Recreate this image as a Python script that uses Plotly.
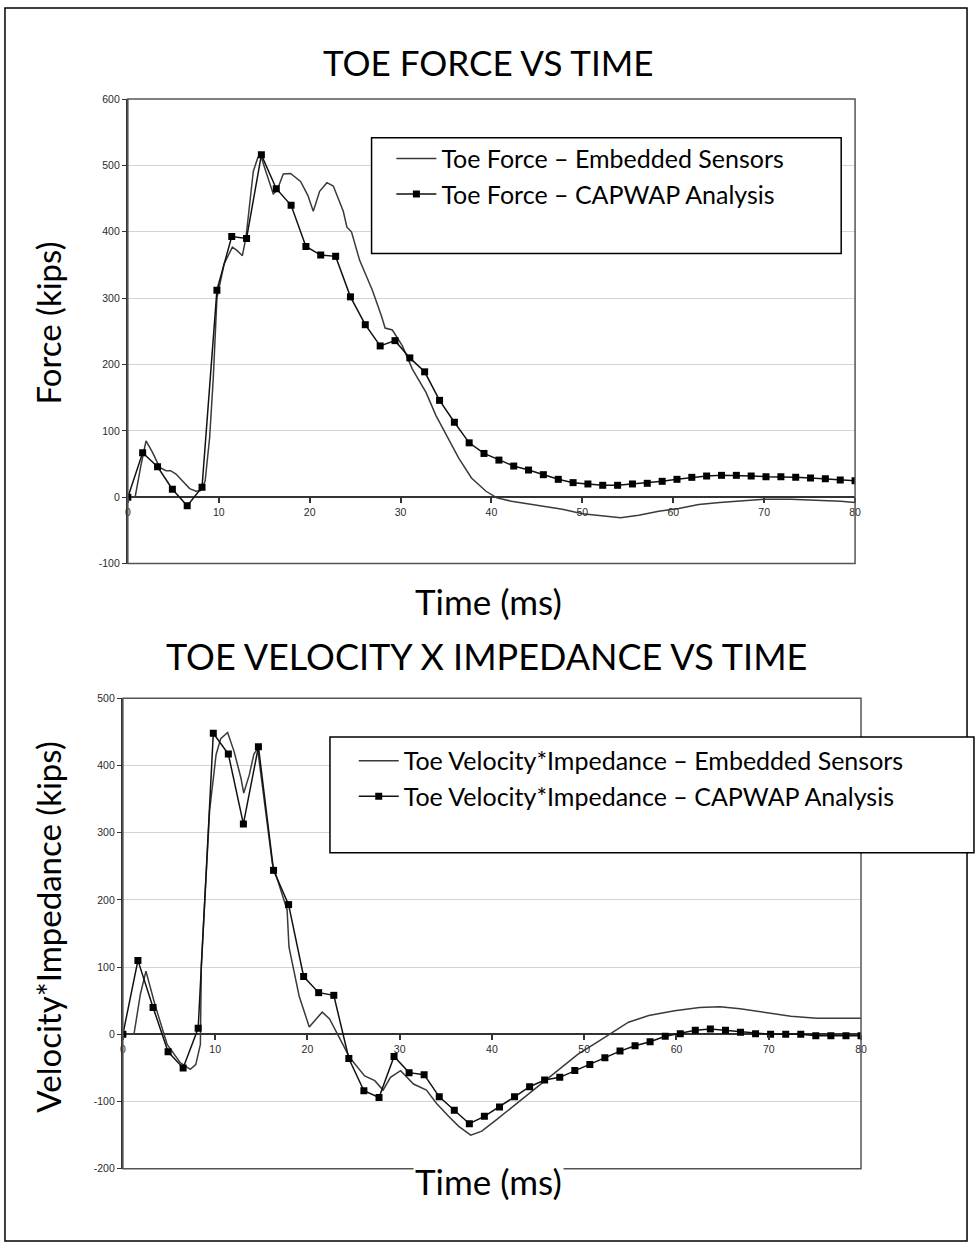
import plotly.graph_objects as go

# ---------------- DATA ----------------
# CAPWAP sample times (ms)
t_capwap = [0.00, 1.63, 3.27, 4.90, 6.53, 8.16, 9.80, 11.43, 13.06, 14.69,
            16.33, 17.96, 19.59, 21.22, 22.86, 24.49, 26.12, 27.76, 29.39, 31.02,
            32.65, 34.29, 35.92, 37.55, 39.18, 40.82, 42.45, 44.08, 45.71, 47.35,
            48.98, 50.61, 52.24, 53.88, 55.51, 57.14, 58.78, 60.41, 62.04, 63.67,
            65.31, 66.94, 68.57, 70.20, 71.84, 73.47, 75.10, 76.73, 78.37, 80.00]

force_capwap = [0, 67, 46, 12, -13, 15, 312, 393, 390, 516,
                465, 440, 378, 365, 363, 302, 260, 228, 236, 210,
                189, 146, 113, 82, 66, 56, 47, 41, 34, 27,
                22, 20, 18, 18, 20, 21, 24, 27, 30, 32,
                33, 33, 32, 31, 31, 30, 29, 28, 26, 25]

vz_capwap = [0, 110, 40, -26, -50, 9, 448, 417, 313, 428,
             244, 193, 86, 62, 58, -36, -84, -94, -33, -57,
             -60, -93, -113, -133, -122, -108, -93, -78, -68, -64,
             -54, -45, -35, -25, -17, -11, -3, 1, 6, 8,
             6, 3, 1, 0, 0, 0, -2, -2, -2, -2]

# Embedded sensor traces
t_force_sensor = [0, 0.8, 1.4, 2.0, 2.7, 3.5, 4.2, 4.7, 5.3, 6.0, 6.8, 7.5, 8.0, 8.5,
                  9.0, 9.4, 9.8, 10.6, 11.5, 12.0, 12.6, 13.0, 13.8, 14.3, 14.6, 15.2,
                  16.0, 16.4, 17.1, 17.9, 19.0, 19.8, 20.4, 21.1, 21.9, 22.6, 23.7, 24.1,
                  24.6, 25.5, 26.9, 27.9, 28.3, 29.1, 30.2, 31.3, 32.8, 33.9, 35.0, 36.4,
                  37.8, 39.4, 40.6, 42.2, 45.0, 47.8, 50.0, 52.3, 54.2, 56.2, 58.4, 60.6,
                  62.8, 65.1, 67.3, 70.1, 72.9, 75.7, 78.4, 80.0]
force_sensor = [0, 0, 45, 85, 68, 45, 40, 40, 35, 24, 13, 9, 10, 24,
                90, 180, 300, 352, 377, 372, 364, 392, 491, 512, 516, 490,
                457, 462, 487, 488, 476, 455, 431, 461, 474, 469, 431, 407,
                400, 357, 312, 273, 255, 252, 228, 193, 158, 123, 94, 59,
                29, 9, -1, -6, -12, -18, -25, -28, -31, -27, -21, -17,
                -11, -8, -6, -3, -3, -4, -6, -8]

t_vz_sensor = [0, 1.2, 1.9, 2.5, 3.5, 4.8, 6.2, 7.3, 7.9, 8.4, 8.5, 9.0, 9.4, 10.1,
               10.6, 11.35, 12.05, 12.8, 13.1, 13.7, 14.2, 14.6, 16.2, 17.8, 18.0,
               19.1, 20.2, 21.6, 22.4, 23.5, 24.6, 26.2, 27.3, 28.2, 29.0, 30.1, 31.5,
               32.9, 34.0, 35.3, 36.4, 37.7, 38.9, 40.5, 42.7, 44.9, 47.1, 49.3, 51.5,
               53.2, 54.8, 57.0, 59.8, 62.5, 64.7, 66.9, 69.7, 72.4, 75.2, 77.9, 80.0]
vz_sensor = [0, 0, 60, 94, 43, -15, -42, -52, -45, -15, 102, 234, 333, 416,
             440, 449, 421, 381, 359, 386, 417, 425, 254, 185, 130,
             57, 11, 33, 23, -6, -35, -62, -69, -83, -64, -54, -74,
             -83, -103, -122, -137, -150, -144, -127, -103, -79, -54, -30, -11,
             4, 18, 28, 35, 40, 41, 38, 32, 27, 24, 24, 24]

x_ticks = [0, 10, 20, 30, 40, 50, 60, 70, 80]
force_ticks = [-100, 0, 100, 200, 300, 400, 500, 600]
vz_ticks = [-200, -100, 0, 100, 200, 300, 400, 500]

names_force = ["Toe Force \u2013 Embedded Sensors", "Toe Force \u2013 CAPWAP Analysis"]
names_vz = ["Toe Velocity*Impedance \u2013 Embedded Sensors",
            "Toe Velocity*Impedance \u2013 CAPWAP Analysis"]

# ---------------- LAYOUT HELPERS ----------------
W, H = 976, 1250
def px(x):
    return x / W
def py(y):
    return 1 - y / H

TXT_FONT = "Lato, Carlito, 'Open Sans', sans-serif"
TICK_FONT = dict(family="Liberation Sans, Arial, sans-serif", size=10.5, color="#2a2a2a")

fig = go.Figure()

# Top chart
fig.add_trace(go.Scatter(x=t_force_sensor, y=force_sensor, mode="lines",
                         name=names_force[0], line=dict(color="#3a3a3a", width=1.5),
                         xaxis="x", yaxis="y", legend="legend"))
fig.add_trace(go.Scatter(x=t_capwap, y=force_capwap, mode="lines+markers",
                         name=names_force[1], line=dict(color="#111", width=1.5),
                         marker=dict(symbol="square", size=7, color="#000"),
                         xaxis="x", yaxis="y", legend="legend"))
# Bottom chart
fig.add_trace(go.Scatter(x=t_vz_sensor, y=vz_sensor, mode="lines",
                         name=names_vz[0], line=dict(color="#3a3a3a", width=1.5),
                         xaxis="x2", yaxis="y2", legend="legend2"))
fig.add_trace(go.Scatter(x=t_capwap, y=vz_capwap, mode="lines+markers",
                         name=names_vz[1], line=dict(color="#111", width=1.5),
                         marker=dict(symbol="square", size=7, color="#000"),
                         xaxis="x2", yaxis="y2", legend="legend2"))

top_y = [py(563), py(94)]
bot_y = [py(1174), py(699)]
top_zero = top_y[0] + (0 - (-100)) / 700 * (top_y[1] - top_y[0])
bot_zero = bot_y[0] + (0 - (-200)) / 700 * (bot_y[1] - bot_y[0])

common_x = dict(range=[0, 80], tickvals=x_ticks, ticks="outside", ticklen=5,
                tickcolor="#333", tickwidth=1.5, showgrid=False, zeroline=False,
                showline=False, tickfont=TICK_FONT, anchor="free", fixedrange=True)
common_y = dict(ticks="outside", ticklen=4, tickcolor="#333", showgrid=True,
                gridcolor="#d4d4d4", gridwidth=1, zeroline=True, zerolinecolor="#333",
                zerolinewidth=2, showline=True, linecolor="#333", linewidth=2,
                tickfont=TICK_FONT, fixedrange=True)

LEG_FONT = dict(family=TXT_FONT, size=25, color="#000")
fig.update_layout(
    width=W, height=H, autosize=False,
    margin=dict(l=0, r=0, t=0, b=0),
    paper_bgcolor="white", plot_bgcolor="white",
    xaxis=dict(domain=[px(126), px(860)], position=top_zero, **common_x),
    yaxis=dict(domain=top_y, range=[-100, 600], tickvals=force_ticks,
               ticktext=[str(v) for v in force_ticks], anchor="x", **common_y),
    xaxis2=dict(domain=[px(121), px(866)], position=bot_zero, **common_x),
    yaxis2=dict(domain=bot_y, range=[-200, 500], tickvals=vz_ticks,
                ticktext=[str(v) for v in vz_ticks], anchor="x2", **common_y),
    legend=dict(x=px(392), y=py(131), xanchor="left", yanchor="top",
                bgcolor="rgba(0,0,0,0)", borderwidth=0, tracegroupgap=0,
                font=LEG_FONT, itemwidth=40),
    legend2=dict(x=px(354), y=py(739), xanchor="left", yanchor="top",
                 bgcolor="rgba(0,0,0,0)", borderwidth=0, tracegroupgap=0,
                 font=LEG_FONT, itemwidth=40),
    showlegend=True,
)

shapes = [
    # outer border
    dict(type="rect", xref="paper", yref="paper", x0=px(2), x1=px(973), y0=py(1247), y1=py(2),
         line=dict(color="#000", width=1.5)),
    # plot boxes
    dict(type="rect", xref="x domain", yref="y domain", x0=0, x1=1, y0=0, y1=1,
         line=dict(color="#555", width=1.5), layer="above"),
    dict(type="rect", xref="x2 domain", yref="y2 domain", x0=0, x1=1, y0=0, y1=1,
         line=dict(color="#555", width=1.5), layer="above"),
    # legend boxes
    dict(type="rect", xref="paper", yref="paper", x0=px(372), x1=px(846), y0=py(250), y1=py(133),
         line=dict(color="#000", width=1.5), fillcolor="white", layer="above"),
    dict(type="rect", xref="paper", yref="paper", x0=px(330), x1=px(980), y0=py(855), y1=py(738),
         line=dict(color="#000", width=1.5), fillcolor="white", layer="above"),
]
fig.update_layout(shapes=shapes)

annotations = [
    dict(text="TOE FORCE VS TIME", x=px(490), y=py(57), size=35),
    dict(text="Time (ms)", x=px(490), y=py(601), size=35),
    dict(text="TOE VELOCITY X IMPEDANCE VS TIME", x=px(488), y=py(656), size=36),
    dict(text="Time (ms)", x=px(490), y=py(1186), size=35, bgcolor="white"),
    dict(text="Force (kips)", x=px(45), y=py(320), textangle=-90, size=33),
    dict(text="Velocity*Impedance (kips)", x=px(45), y=py(930), textangle=-90, size=33),
]
for a in annotations:
    s = a.pop("size")
    a.update(xref="paper", yref="paper", showarrow=False, xanchor="center",
             yanchor="middle", font=dict(family=TXT_FONT, size=s, color="#000"))
fig.update_layout(annotations=annotations)

fig.write_html("out.html", config={"displayModeBar": False},
               post_script="document.body.style.margin='0px';document.body.style.overflow='hidden';")
